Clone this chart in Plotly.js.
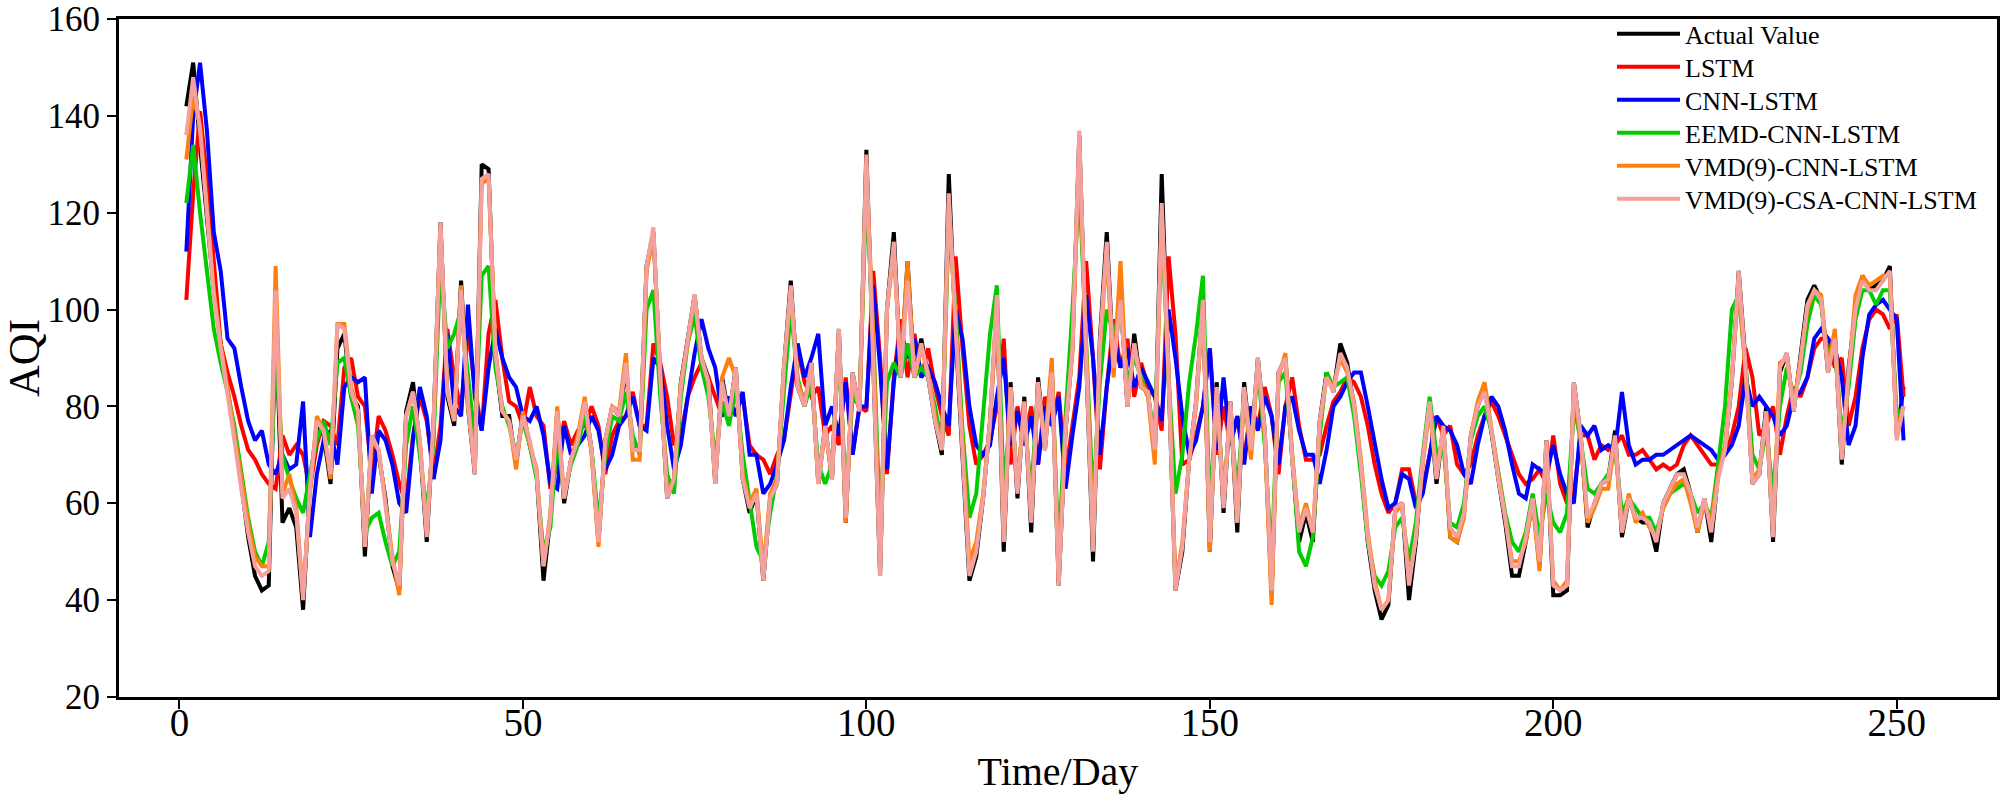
<!DOCTYPE html>
<html>
<head>
<meta charset="utf-8">
<script src="https://cdn.plot.ly/plotly-3.0.1.min.js"></script>
<style>html,body{margin:0;padding:0;background:#fff;}#chart{width:2007px;height:794px;}</style>
</head>
<body>
<div id="chart"></div>
<script>
const seriesNames = ["Actual Value","LSTM","CNN-LSTM","EEMD-CNN-LSTM","VMD(9)-CNN-LSTM","VMD(9)-CSA-CNN-LSTM"];
const seriesColors = ["#000000","#ff0000","#0000ff","#00cc00","#ff7f0e","#f4a19e"];

const actual = [142,151,134,118,104,93,84,74,64,53,
 45,42,43,99,56,59,55,38,64,76,
 74,64,92,95,82,80,49,74,70,61,
 47,42,79,85,72,52,77,118,82,76,
 106,80,66,130,129,90,78,78,68,79,
 72,66,44,57,79,60,69,73,81,71,
 52,73,80,78,88,71,71,109,116,86,
 61,65,85,94,103,90,86,64,86,78,
 88,65,58,62,44,61,64,88,106,84,
 80,89,64,76,65,96,56,87,79,133,
 90,45,100,116,86,110,86,94,86,77,
 70,128,95,70,44,49,61,77,101,50,
 85,61,82,54,86,71,88,43,75,92,
 136,90,48,94,116,88,103,80,95,84,
 83,70,128,86,42,50,69,81,102,50,
 85,58,81,54,85,71,90,75,41,87,
 90,69,52,58,52,77,87,83,93,89,
 80,68,52,42,36,39,59,60,40,52,
 69,81,64,76,53,52,58,74,80,84,
 74,65,56,45,45,52,61,47,73,41,
 41,42,85,74,55,60,64,65,75,53,
 61,57,56,56,50,60,63,66,67,62,
 54,61,52,66,71,85,108,89,64,66,
 80,52,87,91,79,90,102,105,102,87,
 95,68,88,100,107,104,105,106,109,74,
 84];

const lstm = [102,124,141,127,110,93,87,82,76,71,
 69,66,64,63,74,70,72,70,63,72,
 77,76,72,88,90,82,80,66,78,75,
 70,64,60,74,82,77,66,76,96,86,
 79,96,84,75,95,102,90,81,80,76,
 84,78,76,63,68,77,72,75,76,80,
 76,66,74,77,78,83,76,76,93,89,
 82,72,74,82,86,89,86,82,78,80,
 79,82,72,70,69,66,70,73,83,92,
 85,82,84,74,76,72,86,70,80,79,
 108,90,66,86,98,86,95,86,92,84,
 78,74,111,92,76,68,70,73,80,94,
 68,80,72,80,68,82,76,83,66,76,
 86,110,90,67,84,98,88,94,82,89,
 84,82,75,111,95,68,69,74,80,92,
 70,80,72,78,69,80,76,84,78,66,
 80,86,76,69,69,70,76,81,83,86,
 85,82,76,68,62,58,60,67,67,60,
 63,70,78,74,76,68,66,68,74,78,
 81,78,74,70,66,64,65,67,64,74,
 64,60,62,74,74,69,72,71,72,74,
 70,70,71,69,67,68,67,68,72,74,
 72,70,68,68,70,74,80,92,86,74,
 76,80,70,78,84,82,86,92,94,94,
 88,90,76,82,92,98,100,99,96,99,
 82];

const cnnLstm = [112,140,151,137,116,108,94,92,84,77,
 73,75,68,66,70,67,68,81,53,66,
 73,75,68,84,86,85,86,62,75,73,
 68,60,58,73,84,78,65,73,95,80,
 78,101,82,75,88,96,90,86,84,78,
 77,80,74,64,63,76,70,72,74,78,
 75,67,70,76,78,82,76,75,90,88,
 76,67,72,82,91,98,92,88,78,82,
 78,83,70,70,62,64,68,73,84,93,
 86,90,95,76,80,74,85,70,80,80,
 105,88,67,85,96,90,94,86,88,85,
 80,76,100,94,80,72,70,72,82,90,
 72,79,72,78,68,80,76,82,63,74,
 84,103,90,70,84,95,88,92,84,88,
 85,82,77,100,90,78,70,73,80,92,
 71,86,72,78,68,80,75,82,78,68,
 80,82,75,70,70,64,71,80,82,85,
 87,87,80,72,65,59,60,66,65,59,
 62,70,78,76,75,72,66,64,72,78,
 82,80,75,68,62,61,68,67,66,72,
 66,62,60,76,74,76,71,72,71,83,
 72,68,69,69,70,70,71,72,73,74,
 73,72,71,69,70,72,76,86,80,82,
 80,78,74,76,82,83,86,94,96,94,
 92,86,72,76,90,99,101,102,100,98,
 73];

const eemd = [122,134,120,108,96,89,83,76,67,57,
 50,47,52,91,70,65,61,58,66,73,
 77,72,89,90,82,76,54,57,58,52,
 47,50,72,80,70,58,73,110,92,95,
 100,86,73,107,109,88,80,76,70,77,
 72,65,50,55,74,62,68,72,78,71,
 56,70,78,77,83,74,70,100,104,82,
 66,62,82,93,99,88,82,69,81,76,
 84,70,60,51,48,58,66,82,100,86,
 80,85,68,64,68,92,62,82,80,125,
 95,55,85,89,86,93,86,88,86,80,
 72,118,100,75,57,62,78,95,105,62,
 80,65,78,62,84,73,86,50,78,100,
 126,92,60,85,100,95,100,85,90,86,
 82,74,118,86,62,70,85,95,107,58,
 82,62,78,62,82,72,88,72,48,85,
 87,70,50,47,53,74,87,84,85,86,
 78,66,52,45,43,46,55,57,48,56,
 70,82,70,72,56,55,60,73,78,80,
 75,66,58,52,50,54,62,53,62,56,
 54,58,80,73,63,62,64,66,71,58,
 61,59,57,57,54,59,62,63,64,62,
 58,60,57,68,80,100,103,88,70,67,
 75,62,80,88,82,87,97,103,101,90,
 92,74,84,98,104,104,101,104,104,78,
 80];

const vmdCnn = [131,144,138,120,104,93,84,75,66,56,
 49,47,47,109,62,66,59,41,62,78,
 75,65,97,97,84,79,51,73,71,60,
 49,41,78,83,73,54,76,117,83,77,
 105,80,67,126,127,92,79,77,67,79,
 72,67,47,58,80,61,69,74,82,70,
 51,73,80,79,91,69,69,108,115,87,
 62,65,85,93,103,90,85,65,86,90,
 86,66,60,63,46,62,65,88,104,85,
 81,88,64,75,66,95,56,86,79,130,
 95,47,100,112,88,110,86,92,87,78,
 71,122,97,72,48,52,62,76,101,52,
 84,63,81,57,84,72,90,44,76,91,
 133,92,52,92,112,86,110,80,93,85,
 82,68,120,88,43,52,69,80,101,50,
 84,60,80,56,83,69,89,74,39,86,
 91,70,55,60,54,76,86,84,90,87,
 81,69,54,44,38,40,58,60,44,53,
 68,80,66,75,53,52,57,74,81,85,
 75,66,57,48,48,52,60,46,72,44,
 42,44,84,73,56,59,63,63,73,54,
 62,56,58,55,53,59,62,64,65,60,
 54,60,56,66,72,86,105,87,65,67,
 78,54,89,90,80,90,100,104,103,88,
 96,70,86,103,107,105,106,107,107,75,
 80];

const vmdCsa = [136,148,137,119,103,92,83,73,63,54,
 47,45,46,104,61,63,58,40,63,77,
 75,66,97,96,83,79,51,74,71,60,
 48,43,78,83,73,53,77,118,83,77,
 104,81,66,127,128,91,79,77,69,78,
 73,66,47,57,79,61,69,73,81,71,
 52,73,80,78,89,71,71,109,117,86,
 61,65,84,94,103,90,85,64,85,78,
 88,65,59,62,44,61,64,88,105,84,
 80,89,64,76,65,96,57,87,79,132,
 90,45,100,114,86,106,86,93,86,77,
 71,124,96,71,45,50,61,77,103,52,
 84,62,81,56,85,71,87,43,75,92,
 137,90,50,93,114,88,102,80,93,84,
 83,71,122,86,42,51,69,81,102,52,
 84,59,81,56,84,71,90,75,42,87,
 90,69,54,59,54,77,86,83,91,88,
 80,68,53,43,38,40,59,60,43,53,
 69,81,65,76,55,53,58,74,80,83,
 75,65,57,47,47,53,61,48,73,43,
 42,43,85,74,57,60,64,65,74,54,
 61,57,57,56,52,60,63,66,66,62,
 55,61,54,65,71,85,108,88,64,66,
 79,53,88,91,79,89,101,104,102,87,
 94,69,87,100,106,104,104,106,108,73,
 80];

const days = actual.map((_, i) => i + 1);
const xTickVals = [0, 50, 100, 150, 200, 250];
const yTickVals = [20, 40, 60, 80, 100, 120, 140, 160];

const allSeries = [actual, lstm, cnnLstm, eemd, vmdCnn, vmdCsa];
const traces = allSeries.map((ys, k) => ({
  x: days, y: ys, type: 'scatter', mode: 'lines', name: seriesNames[k],
  line: {color: seriesColors[k], width: 4}
}));

const serif = "'Liberation Serif', 'Times New Roman', serif";
const layout = {
  width: 2007, height: 794,
  margin: {l: 119, r: 10, t: 19, b: 97},
  paper_bgcolor: '#ffffff', plot_bgcolor: '#ffffff',
  font: {family: serif, color: '#000000'},
  showlegend: true,
  legend: {
    x: 0.795, y: 1.0128, xanchor: 'left', yanchor: 'top',
    font: {family: serif, size: 26, color: '#000000'},
    bgcolor: 'rgba(0,0,0,0)', borderwidth: 0, itemwidth: 63, tracegroupgap: 0
  },
  xaxis: {
    range: [-8.8, 264.6], tickmode: 'array', tickvals: xTickVals,
    ticks: 'outside', ticklen: 9, tickwidth: 2, tickcolor: '#000',
    showline: true, linecolor: '#000', linewidth: 3, mirror: true,
    showgrid: false, zeroline: false,
    tickfont: {family: serif, size: 39, color: '#000'},
    ticklabelstandoff: -20,
    title: {text: 'Time/Day', font: {family: serif, size: 40, color: '#000'}, standoff: 22},
    automargin: false
  },
  yaxis: {
    range: [19.98, 160.02], tickmode: 'array', tickvals: yTickVals,
    ticks: 'outside', ticklen: 9, tickwidth: 2, tickcolor: '#000',
    showline: true, linecolor: '#000', linewidth: 3, mirror: true,
    showgrid: false, zeroline: false,
    tickfont: {family: serif, size: 35, color: '#000'},
    ticklabeloverflow: 'allow',
    title: {text: 'AQI', font: {family: serif, size: 44, color: '#000'}, standoff: 4},
    automargin: false
  }
};

Plotly.newPlot('chart', traces, layout, {displayModeBar: false, staticPlot: true}).then(() => {
  // tighten legend row spacing to match the reference (about 33 px per row)
  const rows = document.querySelectorAll('#chart .legend .traces');
  if (rows.length) {
    const m0 = /translate\(([-\d.]+),\s*([-\d.]+)\)/.exec(rows[0].getAttribute('transform') || '');
    if (m0) {
      const x0 = parseFloat(m0[1]), y0 = parseFloat(m0[2]);
      rows.forEach((r, i) => r.setAttribute('transform', 'translate(' + x0 + ',' + (y0 + i * 33) + ')'));
    }
  }
});
</script>
</body>
</html>
